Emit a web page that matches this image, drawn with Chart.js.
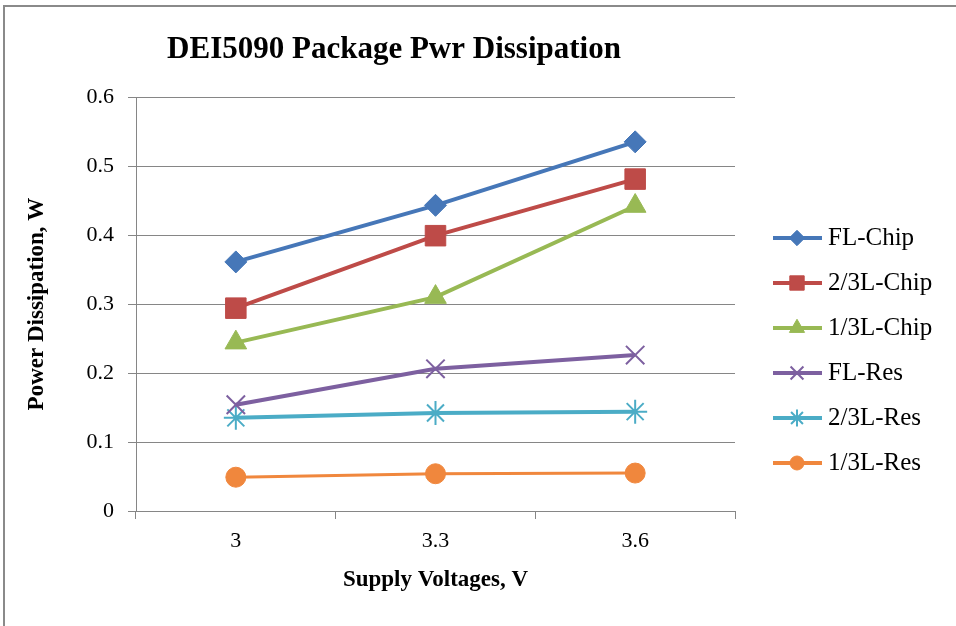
<!DOCTYPE html>
<html>
<head>
<meta charset="utf-8">
<title>DEI5090 Package Pwr Dissipation</title>
<script src="https://cdn.jsdelivr.net/npm/chart.js@4.4.0/dist/chart.umd.min.js"></script>
<style>
    html, body { margin: 0; padding: 0; background: #fff; }
    #wrap { position: relative; width: 956px; height: 626px; overflow: hidden; }
    #frame {
        position: absolute; left: 3px; top: 5px; width: 1000px; height: 700px;
        border-left: 2px solid #8a8a8a; border-top: 2px solid #8a8a8a;
    }
    #lineChart { position: absolute; left: 0; top: 0; }
</style>
</head>
<body>
<div id="wrap">
    <div id="frame"></div>
    <canvas id="lineChart" width="956" height="626"></canvas>
</div>
<script>
// data
var voltages = ["3", "3.3", "3.6"];
var flChip = [0.361, 0.443, 0.535];
var twoThirdChip = [0.294, 0.399, 0.481];
var oneThirdChip = [0.244, 0.310, 0.442];
var flRes = [0.154, 0.206, 0.226];
var twoThirdRes = [0.135, 0.142, 0.144];
var oneThirdRes = [0.049, 0.054, 0.055];

var serif = "'Liberation Serif', 'Times New Roman', serif";

function series(label, data, color, style, radius, markerLine, lineW) {
    return {
        label: label,
        data: data,
        borderColor: color,
        backgroundColor: color,
        borderWidth: lineW,
        tension: 0,
        pointStyle: style,
        pointRadius: radius,
        pointHoverRadius: radius,
        pointBackgroundColor: color,
        pointBorderColor: color,
        pointBorderWidth: markerLine
    };
}

// title + line/marker legend on the right, drawn like the Excel original
var sideLegend = {
    id: "sideLegend",
    afterDraw: function (chart) {
        var ctx = chart.ctx;
        ctx.save();
        ctx.fillStyle = "#000";
        ctx.font = "bold 31px " + serif;
        ctx.textAlign = "center";
        ctx.textBaseline = "middle";
        ctx.fillText("DEI5090 Package Pwr Dissipation", 394, 50);

        chart.data.datasets.forEach(function (ds, i) {
            var y = 238 + i * 45;
            ctx.strokeStyle = ds.borderColor;
            ctx.lineWidth = 4;
            ctx.beginPath();
            ctx.moveTo(773, y);
            ctx.lineTo(822, y);
            ctx.stroke();

            ctx.fillStyle = ds.backgroundColor;
            ctx.lineWidth = ds.pointBorderWidth;
            Chart.helpers.drawPoint(ctx, {
                pointStyle: ds.pointStyle,
                radius: ds.pointRadius * 0.7,
                rotation: 0,
                borderWidth: ds.pointBorderWidth
            }, 797, y);

            ctx.fillStyle = "#000";
            ctx.font = "25px " + serif;
            ctx.textAlign = "left";
            ctx.textBaseline = "middle";
            ctx.fillText(ds.label, 828, y);
        });
        ctx.restore();
    }
};

var ctx = document.getElementById("lineChart").getContext("2d");
var lineChart = new Chart(ctx, {
    type: "line",
    data: {
        labels: voltages,
        datasets: [
            series("FL-Chip", flChip, "#4677B8", "rectRot", 11, 1, 4),
            series("2/3L-Chip", twoThirdChip, "#BE4B48", "rect", 14.5, 1, 4),
            series("1/3L-Chip", oneThirdChip, "#98B954", "triangle", 12.5, 1, 4),
            series("FL-Res", flRes, "#7D60A0", "crossRot", 13, 2, 4),
            series("2/3L-Res", twoThirdRes, "#4BACC6", "star", 12, 2, 4),
            series("1/3L-Res", oneThirdRes, "#F0873D", "circle", 10, 1, 3)
        ]
    },
    options: {
        responsive: false,
        animation: false,
        layout: {
            padding: { top: 97, right: 221, bottom: 30, left: 8 }
        },
        plugins: {
            legend: { display: false },
            title: { display: false },
            tooltip: { enabled: false }
        },
        scales: {
            x: {
                offset: true,
                grid: {
                    offset: true,
                    drawOnChartArea: false,
                    drawTicks: true,
                    tickLength: 8,
                    color: "#868686"
                },
                border: { color: "#868686", width: 1 },
                ticks: {
                    color: "#000",
                    padding: 9,
                    font: { family: serif, size: 22 }
                },
                title: {
                    display: true,
                    text: "Supply Voltages, V",
                    color: "#000",
                    font: { family: serif, size: 23, weight: "bold" },
                    padding: { top: 0, bottom: 2 }
                },
                afterFit: function (scale) { scale.height = 85; }
            },
            y: {
                min: 0,
                max: 0.6,
                grid: {
                    color: "#868686",
                    lineWidth: 1,
                    drawTicks: true,
                    tickLength: 8
                },
                border: { color: "#868686", width: 1 },
                ticks: {
                    stepSize: 0.1,
                    color: "#000",
                    padding: 14,
                    font: { family: serif, size: 22 }
                },
                title: {
                    display: true,
                    text: "Power Dissipation, W",
                    color: "#000",
                    font: { family: serif, size: 23, weight: "bold" },
                    padding: { top: 15, bottom: 0 }
                },
                afterFit: function (scale) { scale.width = 128; }
            }
        }
    },
    plugins: [sideLegend]
});
</script>
</body>
</html>
